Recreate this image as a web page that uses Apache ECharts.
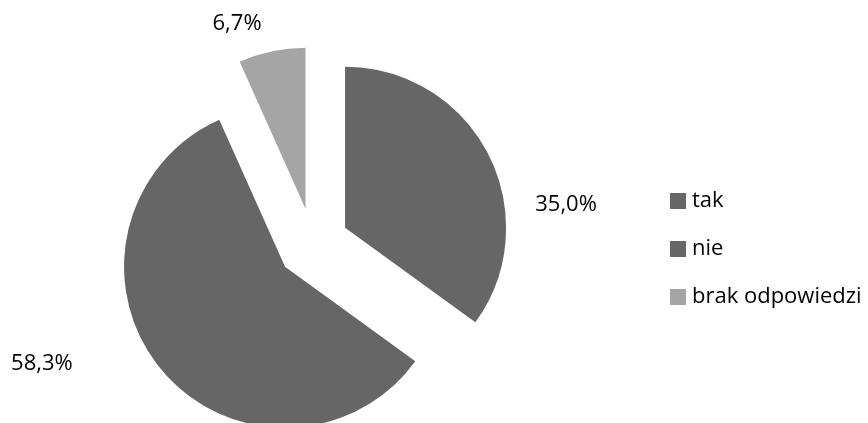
<!DOCTYPE html>
<html>
<head>
<meta charset="utf-8">
<script src="https://cdn.jsdelivr.net/npm/echarts@6/dist/echarts.min.js"></script>
<style>
  html, body { margin: 0; padding: 0; background: #fff; }
  #chart { width: 868px; height: 423px; }
</style>
</head>
<body>
<div id="chart"></div>
<script>
// Answer categories and their shares (percent)
const categories = ['tak', 'nie', 'brak odpowiedzi'];
const shares = [35.0, 58.3, 6.7];
const colors = ['#666666', '#666666', '#a5a5a5'];

// Nudges for the value labels so they sit beside their slices
const labelShift = [[5, 64], [-49, -23], [11, 2]];

const FONT = '"Open Sans", Lato, sans-serif';

const chart = echarts.init(document.getElementById('chart'), null, { renderer: 'canvas' });

const pieData = categories.map((name, i) => ({
  name: name,
  value: shares[i],
  selected: true,
  itemStyle: { color: colors[i] },
  select: { itemStyle: { color: colors[i] } }
}));

chart.setOption({
  animation: false,
  legend: {
    orient: 'vertical',
    left: 665,
    top: 185,
    itemWidth: 16,
    itemHeight: 16,
    itemGap: 26,
    icon: 'rect',
    selectedMode: false,
    textStyle: { fontFamily: FONT, fontSize: 22, color: '#000', padding: [0, 0, 0, 1] },
    data: categories
  },
  series: [{
    type: 'pie',
    center: [313, 244],
    radius: 161,
    startAngle: 90,
    clockwise: true,
    selectedMode: 'multiple',
    selectedOffset: 36,
    silent: true,
    avoidLabelOverlap: false,
    label: {
      show: true,
      position: 'outside',
      fontFamily: FONT,
      fontSize: 22,
      color: '#000',
      formatter: p => p.value.toFixed(1).replace('.', ',') + '%'
    },
    labelLine: { show: false, length: 30, length2: 10 },
    labelLayout: p => ({ dx: labelShift[p.dataIndex][0], dy: labelShift[p.dataIndex][1] }),
    emphasis: { disabled: true },
    data: pieData
  }]
});
</script>
</body>
</html>
